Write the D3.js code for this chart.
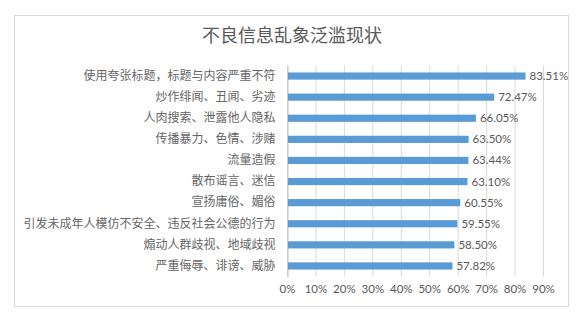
<!DOCTYPE html>
<html>
<head>
<meta charset="utf-8">
<script src="https://cdn.jsdelivr.net/npm/d3@7"></script>
<style>
  body { margin: 0; background: #fff; }
  svg { display: block; }
</style>
</head>
<body>
<script>
// Chart data
const categories = [
  "使用夸张标题，标题与内容严重不符",
  "炒作绯闻、丑闻、劣迹",
  "人肉搜索、泄露他人隐私",
  "传播暴力、色情、涉赌",
  "流量造假",
  "散布谣言、迷信",
  "宣扬庸俗、媚俗",
  "引发未成年人模仿不安全、违反社会公德的行为",
  "煽动人群歧视、地域歧视",
  "严重侮辱、诽谤、威胁"
];
const values = [83.51, 72.47, 66.05, 63.50, 63.44, 63.10, 60.55, 59.55, 58.50, 57.82];
const xTicks = [0, 10, 20, 30, 40, 50, 60, 70, 80, 90];
const title = "不良信息乱象泛滥现状";

const width = 588, height = 319;
const cjk = "'Noto Sans CJK SC', sans-serif";
const num = "Lato, 'Open Sans', sans-serif";

const svg = d3.select("body")
    .append("svg")
    .attr("width", width)
    .attr("height", height);

// Chart frame
svg.append("rect")
    .attr("x", 14.5).attr("y", 15.5)
    .attr("width", 554).attr("height", 291)
    .attr("fill", "#fff")
    .attr("stroke", "#d9d9d9");

// Title
svg.append("text")
    .attr("x", 292).attr("y", 42)
    .attr("text-anchor", "middle")
    .attr("font-family", cjk)
    .attr("font-size", 18)
    .attr("fill", "#595959")
    .text(title);

// Scales
const x = d3.scaleLinear().domain([0, 90]).range([287, 543]);
const y = d3.scaleBand().domain(categories).range([65.5, 276.5]).paddingInner(0.66).paddingOuter(0.33);

// Gridlines
svg.append("g")
    .selectAll("line")
    .data(xTicks)
    .join("line")
    .attr("x1", d => x(d) + 0.5).attr("x2", d => x(d) + 0.5)
    .attr("y1", 65.5).attr("y2", 276.5)
    .attr("stroke", "#d9d9d9");

// Bottom axis labels
const xAxis = svg.append("g")
    .attr("transform", "translate(0,276)")
    .call(d3.axisBottom(x).tickValues(xTicks).tickFormat(d => d + "%").tickSize(0).tickPadding(9));
xAxis.select(".domain").remove();
xAxis.selectAll("text")
    .attr("font-family", num)
    .attr("font-size", 11.5)
    .attr("fill", "#595959");

// Category labels
const yAxis = svg.append("g")
    .attr("transform", "translate(287.5,0)")
    .call(d3.axisLeft(y).tickSize(0).tickPadding(12));
yAxis.select(".domain")
    .attr("stroke", "#bfbfbf");
yAxis.selectAll("text")
    .attr("font-family", cjk)
    .attr("font-size", 12)
    .attr("fill", "#666666");

// Bars
svg.append("g")
    .selectAll("rect")
    .data(values)
    .join("rect")
    .attr("x", x(0) + 1)
    .attr("y", (d, i) => y(categories[i]))
    .attr("width", d => x(d) - x(0))
    .attr("height", y.bandwidth())
    .attr("fill", "#5b9bd5");

// Value labels
svg.append("g")
    .selectAll("text")
    .data(values)
    .join("text")
    .attr("x", d => x(d) + 5)
    .attr("y", (d, i) => y(categories[i]) + y.bandwidth() / 2)
    .attr("dy", "0.35em")
    .attr("font-family", num)
    .attr("font-size", 11.5)
    .attr("fill", "#595959")
    .text(d => d.toFixed(2) + "%");
</script>
</body>
</html>
